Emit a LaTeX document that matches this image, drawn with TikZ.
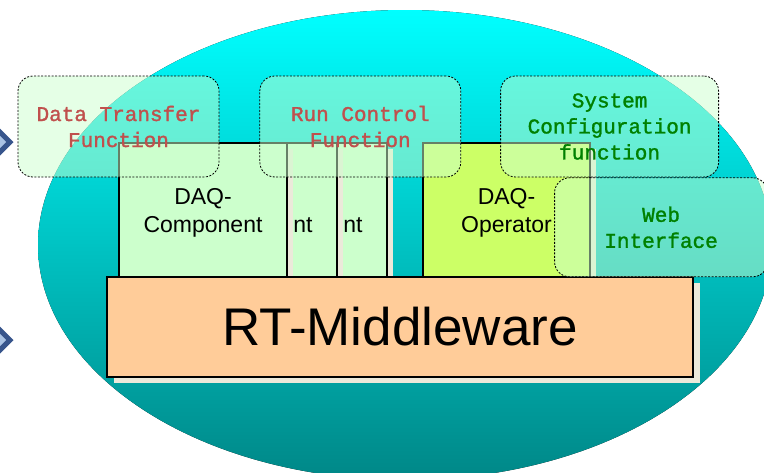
\documentclass[tikz,border=0pt]{standalone}
\usepackage{fontspec}
\setmainfont{Liberation Sans}
\newfontfamily\codefont[FakeBold=1.4]{Liberation Mono}
\usetikzlibrary{positioning,shapes.geometric,shadows}

\definecolor{elltop}{RGB}{0,255,255}
\definecolor{ellmid}{RGB}{0,208,208}
\definecolor{ellbot}{RGB}{0,135,135}
\definecolor{compgreen}{RGB}{204,255,204}
\definecolor{opgreen}{RGB}{204,255,102}
\definecolor{mworange}{RGB}{255,204,153}
\definecolor{shadowgray}{RGB}{236,233,218}
\definecolor{funcfill}{RGB}{204,255,206}
\definecolor{redtext}{RGB}{192,80,77}
\definecolor{greentext}{RGB}{0,128,0}
\definecolor{bulletblue}{RGB}{55,85,140}
\definecolor{bulletfill}{RGB}{170,195,228}

\tikzset{
  comp/.style={draw, line width=1.5pt, fill=compgreen, minimum width=168pt,
    minimum height=140pt, inner sep=0pt, align=center,
    font=\fontsize{23}{28}\selectfont,
    drop shadow={shadow xshift=6pt, shadow yshift=-6pt, fill=shadowgray, opacity=1}},
  mw/.style={draw, line width=2pt, fill=mworange, minimum width=586pt,
    minimum height=100pt, inner sep=0pt, font=\fontsize{53}{60}\selectfont,
    drop shadow={shadow xshift=7pt, shadow yshift=-6pt, fill=shadowgray, opacity=1}},
  func/.style={draw, dash pattern=on 2pt off 1.5pt, line width=0.8pt,
    rounded corners=15pt, fill=funcfill, fill opacity=0.5, text opacity=1,
    minimum height=101pt, inner sep=0pt, align=center,
    font=\codefont\fontsize{21}{26}\selectfont},
  bullet/.style={diamond, draw=bulletblue, line width=5pt, fill=bulletfill,
    minimum width=22pt, minimum height=22pt, inner sep=0pt}
}

\begin{document}
\begin{tikzpicture}[x=1pt, y=-1pt]

  \useasboundingbox (0,0) rectangle (764,472);
  \clip (0,0) rectangle (764,472);

  % background
  \fill [top color=elltop, middle color=ellmid, bottom color=ellbot]
    (405,245) ellipse [x radius=367, y radius=235];

  \node (B1) [bullet] at (0,142) {};
  \node (B2) [bullet] at (0,340) {};

  % components, back to front
  \node (C3) [comp] at (303,213) {DAQ-\\Component};
  \node (C2) [comp, xshift=-50pt] at (C3) {DAQ-\\Component};
  \node (C1) [comp, xshift=-50pt] at (C2) {DAQ-\\Component};

  \node (OP) [comp, fill=opgreen, minimum width=167pt] at (506.5,213) {};
  \begin{scope}
    \clip (OP.north west) rectangle (553,283);
    \node [align=center, font=\fontsize{23}{28}\selectfont] at (OP) {DAQ-\\Operator};
  \end{scope}

  \node (MW) [mw] at (400,327) {RT-Middleware};

  % functions
  \node (DTF) [func, text=redtext, minimum width=201pt] at (118.5,126.5) {Data Transfer\\Function};
  \node (RCF) [func, text=redtext, minimum width=201pt, right=40pt of DTF] {Run Control\\Function};
  \node (SCF) [func, text=greentext, minimum width=218pt, right=39pt of RCF] {System\\Configuration\\function};
  \node (WEB) [func, text=greentext, minimum width=213pt, minimum height=99pt,
    below=0pt of SCF, xshift=51.5pt] {Web\\Interface};

\end{tikzpicture}
\end{document}
